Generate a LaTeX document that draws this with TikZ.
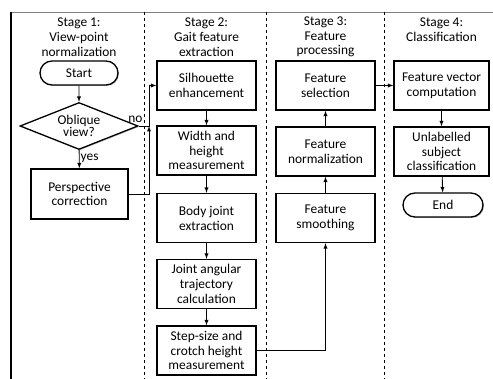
\documentclass[tikz,border=0pt]{standalone}
\usepackage{fontspec}
\setmainfont{Carlito}
\usepackage{tikz}
\usetikzlibrary{shapes.geometric,shapes.misc,shadows}

\begin{document}
\begin{tikzpicture}[x=1pt, y=-1pt,
  font=\fontsize{13.4}{14.8}\selectfont,
  box/.style={draw, line width=1.3pt, fill=white, align=center, inner sep=0pt,
    minimum height=49pt, drop shadow={shadow xshift=1pt, shadow yshift=-1pt, opacity=0.5}},
  stagetwo/.style={box, minimum width=99pt},
  stagefour/.style={box, minimum width=95pt},
  terminal/.style={draw, line width=1.3pt, fill=white, rounded rectangle, inner sep=0pt,
    minimum height=24pt, drop shadow={shadow xshift=1pt, shadow yshift=-1pt, opacity=0.5}},
  flow/.style={->, >=latex, line width=0.9pt},
  header/.style={align=center, inner sep=0pt}]

\useasboundingbox (0,0) rectangle (493,379);

% Draw frame and stage separators
\draw [gray, line width=0.6pt] (11,12) -- (493,12);
\draw [line width=1.6pt] (11,12) -- (11,379);
\draw [dashed, line width=0.6pt] (144,12) -- (144,379);
\draw [dashed, line width=0.6pt] (266,12) -- (266,379);
\draw [dashed, line width=0.6pt] (384,12) -- (384,379);

% Stage headers
\node [header] (hone)   at (79,37)    {Stage 1:\\View-point\\normalization};
\node [header] (htwo)   at (206.5,37) {Stage 2:\\Gait feature\\extraction};
\node [header] (hthree) at (325.5,37) {Stage 3:\\Feature\\processing};
\node [header] (hfour)  at (441.5,29.5) {Stage 4:\\Classification};

% Stage 1
\node [terminal, minimum width=78pt] (start) at (79,73) {Start};
\node [draw, line width=1.3pt, fill=white, diamond, aspect=2.5, inner sep=-8pt,
  minimum width=118pt, minimum height=47pt, align=center,
  font=\fontsize{13.4}{12.2}\selectfont,
  drop shadow={shadow xshift=1pt, shadow yshift=-1pt, opacity=0.5}] (oblique) at (79,126) {Oblique\\view?};
\node [box, minimum width=97pt, minimum height=50pt] (persp) at (79.5,194) {Perspective\\correction};

% Stage 2
\node [stagetwo] (silh)  at (206.5,85.5)  {Silhouette\\enhancement};
\node [stagetwo] (width) at (206.5,150.5) {Width and\\height\\measurement};
\node [stagetwo] (body)  at (206.5,218)   {Body joint\\extraction};
\node [stagetwo] (joint) at (206.5,284)   {Joint angular\\trajectory\\calculation};
\node [stagetwo] (step)  at (206.5,350.5) {Step-size and\\crotch height\\measurement};

% Stage 3
\node [stagetwo] (fsel)    at (325.5,85.5)  {Feature\\selection};
\node [stagetwo] (fnorm)   at (325.5,151.5) {Feature\\normalization};
\node [stagetwo] (fsmooth) at (325.5,218)   {Feature\\smoothing};

% Stage 4
\node [stagefour] (fvec)  at (441.5,85.5)  {Feature vector\\computation};
\node [stagefour] (unlab) at (441.5,151.5) {Unlabelled\\subject\\classification};
\node [terminal, minimum width=80pt] (theend) at (443,205) {End};

% Connectors
\coordinate (join) at (149,126);
\draw [flow] (start) -- (oblique);
\draw [flow] (oblique) -- node[right, inner sep=1pt, pos=0.45] (yes) {yes} (persp);
\draw [flow] (persp.east) -| (join);
\draw [flow] (oblique.east) -- node[pos=1, above left, inner xsep=6pt, inner ysep=3pt] (no) {no} (join) |- (silh.west);
\draw [flow] (silh) -- (width);
\draw [flow] (width) -- (body);
\draw [flow] (body) -- (joint);
\draw [flow] (joint) -- (step);
\draw [flow] (step.east) -| (fsmooth.south);
\draw [flow] (fsmooth) -- (fnorm);
\draw [flow] (fnorm) -- (fsel);
\draw [flow] (fsel) -- (fvec);
\draw [flow] (fvec) -- (unlab);
\draw [flow] (unlab) -- (theend);

\end{tikzpicture}
\end{document}
